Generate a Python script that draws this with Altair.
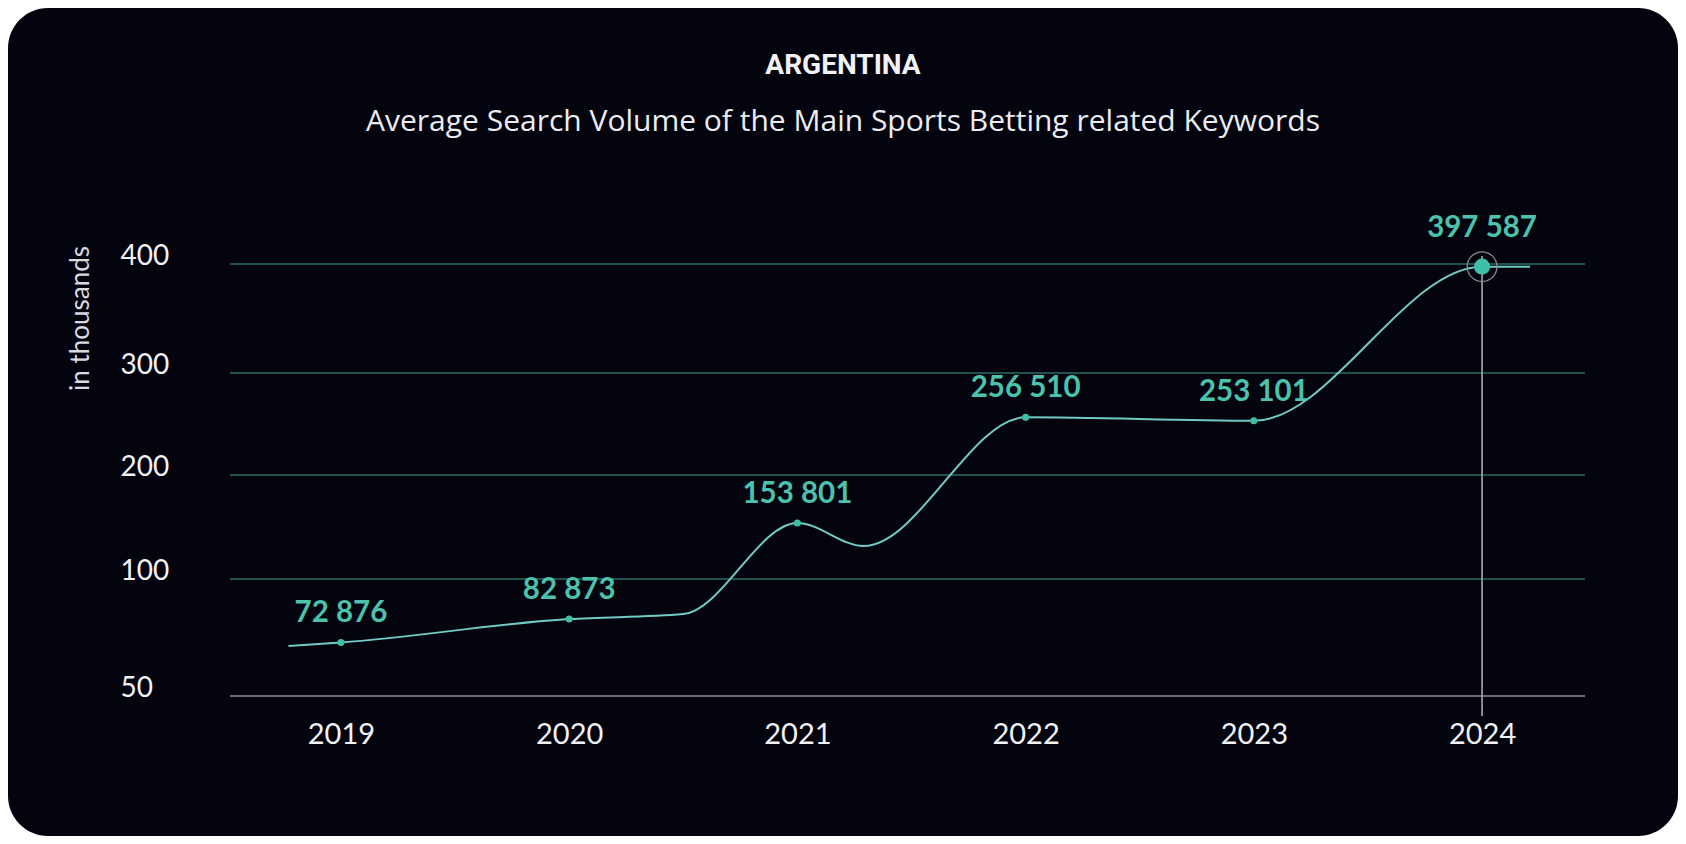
import altair as alt
import pandas as pd

# ---- data ----
years = [2019, 2020, 2021, 2022, 2023, 2024]
volumes = [72876, 82873, 153801, 256510, 253101, 397587]

# shape of the drawn curve (lead-in, plateau, dip after 2021, tail)
curve_years = [2018.77, 2019, 2020, 2020.5, 2021, 2021.29, 2022, 2023, 2024, 2024.21]
curve_values = [71400, 72876, 82873, 85000, 153801, 131700, 256510, 253101, 397587, 397587]

y_ticks = [50, 100, 200, 300, 400]
highlight_year = 2024

title_text = "ARGENTINA"
subtitle_text = "Average Search Volume of the Main Sports Betting related Keywords"
y_title = "in thousands"

# ---- styling ----
CARD = "#04040f"
TEAL_GRID = "#2b6b64"
GRAY = "#8e8e9c"
LINE = "#72cbc2"
DOT = "#3fbfa9"
LABEL = "#4cc2ad"
WHITE = "#f2f2f5"
FONT = "Lato"

W, H = 1355, 432
PAD_L, PAD_T = 222, 256
TOTAL_W, TOTAL_H = 1670, 828
CENTER_X = 843 - 8 - PAD_L

pts = pd.DataFrame({"year": years, "k": [v / 1000 for v in volumes],
                    "label": [f"{v:,}".replace(",", " ") for v in volumes]})
curve = pd.DataFrame({"year": curve_years, "k": [v / 1000 for v in curve_values]})
grid = pd.DataFrame({"k": y_ticks})
hl = pts[pts["year"] == highlight_year]
rest = pts[pts["year"] != highlight_year]

xs = alt.Scale(domain=[2018.514, 2024.451], nice=False, zero=False)
ys = alt.Scale(domain=y_ticks, range=[432, 315, 211, 109, 0], nice=False, zero=False)

X = alt.X("year:Q", scale=xs, title=None,
          axis=alt.Axis(values=years, format="d", grid=False, ticks=False, tickSize=0,
                        domain=False, labelFont=FONT, labelFontSize=29, labelColor=WHITE,
                        labelPadding=38, labelBaseline="middle", labelFlush=False, zindex=1))
Y = alt.Y("k:Q", scale=ys, title=y_title,
          axis=alt.Axis(values=y_ticks, grid=False, ticks=False, tickSize=0, domain=False,
                        labelFont=FONT, labelFontSize=28, labelColor=WHITE, labelAlign="left",
                        labelPadding=110, labelBaseline="middle", labelOffset=-8, labelFlush=False,
                        titleFont=FONT, titleFontSize=26, titleFontWeight="normal",
                        titleColor="#d9d9e0", titleAngle=-90, titleAlign="center",
                        titleBaseline="middle", titleX=-150, titleY=54, zindex=1))

card = alt.Chart(pd.DataFrame({"a": [0]})).mark_rect(
    fill=CARD, cornerRadius=40
).encode(x=alt.value(-PAD_L), x2=alt.value(TOTAL_W - PAD_L),
         y=alt.value(-PAD_T), y2=alt.value(TOTAL_H - PAD_T))

title = alt.Chart(pd.DataFrame({"t": [title_text]})).mark_text(
    font="Roboto", fontSize=28, fontWeight="bold", color=WHITE,
    align="center", baseline="middle"
).encode(x=alt.value(CENTER_X), y=alt.value(66 - 8 - PAD_T), text="t:N")

subtitle = alt.Chart(pd.DataFrame({"t": [subtitle_text]})).mark_text(
    font="Open Sans", fontSize=30, color="#ececf0", align="center", baseline="middle"
).encode(x=alt.value(CENTER_X), y=alt.value(122 - 8 - PAD_T), text="t:N")

gridlines = alt.Chart(grid).mark_rule(strokeWidth=1.6).encode(
    y=Y, x=alt.value(0), x2=alt.value(W),
    color=alt.condition(alt.datum.k == 50, alt.value(GRAY), alt.value(TEAL_GRID)))

vrule = alt.Chart(hl).mark_rule(color="#a9a9b4", strokeWidth=1.6).encode(
    x=X, y=alt.value(-8), y2=alt.value(452))

line = alt.Chart(curve).mark_line(color=LINE, strokeWidth=2, interpolate="monotone").encode(
    x=X, y=Y)

dots = alt.Chart(pts).mark_circle(color=DOT, size=50, opacity=1).encode(x=X, y=Y)

ring = alt.Chart(hl).mark_point(shape="circle", filled=False, stroke="#8a8a96",
                                strokeWidth=1.3, size=880, opacity=1).encode(x=X, y=Y)
big = alt.Chart(hl).mark_circle(color=DOT, size=260, opacity=1).encode(x=X, y=Y)

labels = alt.Chart(rest).mark_text(font=FONT, fontSize=29.5, fontWeight="bold", color=LABEL,
                                   dy=-29, baseline="middle").encode(x=X, y=Y, text="label:N")
hl_label = alt.Chart(hl).mark_text(font=FONT, fontSize=29.5, fontWeight="bold", color=LABEL,
                                   dy=-39, baseline="middle").encode(x=X, y=Y, text="label:N")

chart = alt.layer(card, title, subtitle, gridlines, vrule, line, dots, ring, big,
                  labels, hl_label).properties(
    width=W, height=H,
    autosize=alt.AutoSizeParams(type="none"),
    padding={"left": PAD_L, "top": PAD_T, "right": TOTAL_W - PAD_L - W, "bottom": TOTAL_H - PAD_T - H},
    background="white",
).configure_view(stroke=None)

chart.save("out.html", embed_options={"renderer": "svg", "actions": False})
